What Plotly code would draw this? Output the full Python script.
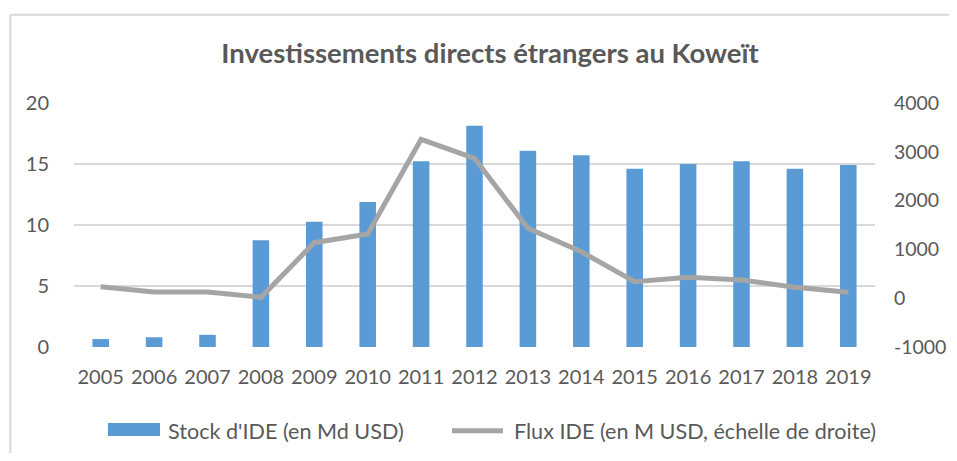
import plotly.graph_objects as go

years = ["2005", "2006", "2007", "2008", "2009", "2010", "2011", "2012",
         "2013", "2014", "2015", "2016", "2017", "2018", "2019"]
stock_md_usd = [0.65, 0.8, 1.0, 8.75, 10.27, 11.88, 15.22, 18.14,
                16.09, 15.71, 14.62, 15.0, 15.22, 14.62, 14.92]
flux_m_usd = [236, 127, 125, 18, 1137, 1315, 3256, 2866,
              1432, 953, 338, 428, 373, 223, 121]

left_ticks = [0, 5, 10, 15, 20]
right_ticks = [-1000, 0, 1000, 2000, 3000, 4000]
right_tick_labels = ["-1000", "0", "1000", "2000", "3000", "4000"]

BAR_NAME = "Stock d'IDE (en Md USD)"
LINE_NAME = "Flux IDE (en M USD, échelle de droite)"

FONT = "Lato, 'Open Sans', sans-serif"
TXT = "#595959"
BAR_COLOR = "#5B9BD5"
LINE_COLOR = "#A5A5A5"
BORDER = "#D9D9D9"

fig = go.Figure()
fig.add_trace(go.Bar(
    x=years, y=stock_md_usd, name=BAR_NAME, showlegend=False,
    marker=dict(color=BAR_COLOR, line=dict(width=0)), width=0.31,
))
fig.add_trace(go.Scatter(
    x=years, y=flux_m_usd, name=LINE_NAME, showlegend=False,
    mode="lines", line=dict(color=LINE_COLOR, width=5), yaxis="y2",
))

legend_font = dict(size=21.6, color=TXT, family=FONT)

W, H = 949, 445

fig.update_layout(
    width=W, height=H,
    margin=dict(l=66, r=82, t=95, b=106),
    paper_bgcolor="white", plot_bgcolor="white",
    font=dict(family=FONT, color=TXT, size=20),
    title=dict(text="<b>Investissements directs étrangers au Koweït</b>",
               x=482 / W, xanchor="center", y=1 - 45 / H, yanchor="middle",
               font=dict(size=27.5, color=TXT, family=FONT)),
    xaxis=dict(showgrid=False, showline=False, ticks="outside", ticklen=12,
               tickcolor="rgba(0,0,0,0)", tickfont=dict(size=20),
               type="category", automargin=False),
    yaxis=dict(range=[0, 20], tickvals=left_ticks, showgrid=True,
               gridcolor="#D9D9D9", gridwidth=1.5, zeroline=False,
               showline=False, ticks="outside", ticklen=20,
               tickcolor="rgba(0,0,0,0)", tickfont=dict(size=20),
               automargin=False),
    yaxis2=dict(range=[-1000, 4000], tickvals=right_ticks,
                ticktext=right_tick_labels, overlaying="y",
                side="right", showgrid=False, zeroline=False, showline=False,
                ticks="outside", ticklen=14, tickcolor="rgba(0,0,0,0)",
                tickfont=dict(size=19.5), automargin=False),
    bargap=0.69,
    showlegend=False,
    shapes=[
        # chart frame (top and left edges visible)
        dict(type="line", xref="paper", yref="paper",
             x0=-0.0795, x1=1.25, y0=1.362, y1=1.362,
             line=dict(color=BORDER, width=2), layer="below"),
        dict(type="line", xref="paper", yref="paper",
             x0=-0.0795, x1=-0.0795, y0=1.362, y1=-0.7,
             line=dict(color=BORDER, width=2), layer="below"),
        # legend symbols
        dict(type="rect", xref="paper", yref="paper",
             x0=0.0424, x1=0.1074, y0=-0.365, y1=-0.311,
             fillcolor=BAR_COLOR, line=dict(width=0)),
        dict(type="line", xref="paper", yref="paper",
             x0=0.4719, x1=0.5356, y0=-0.343, y1=-0.343,
             line=dict(color=LINE_COLOR, width=5)),
    ],
    annotations=[
        dict(text=BAR_NAME, xref="paper", yref="paper", x=0.1149, y=-0.344,
             xanchor="left", yanchor="middle", showarrow=False,
             font=legend_font),
        dict(text=LINE_NAME, xref="paper", yref="paper", x=0.5468, y=-0.344,
             xanchor="left", yanchor="middle", showarrow=False,
             font=legend_font),
    ],
)

fig.write_html("out.html")
